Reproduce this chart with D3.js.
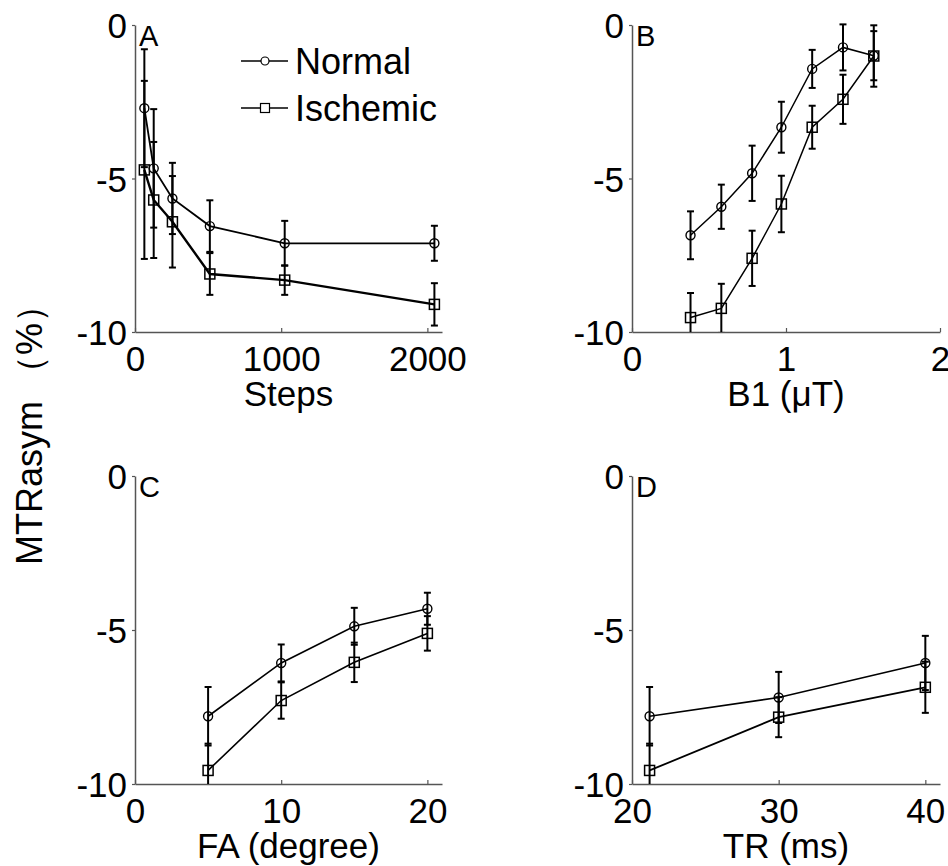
<!DOCTYPE html>
<html>
<head>
<meta charset="utf-8">
<script src="https://cdn.jsdelivr.net/npm/d3@7/dist/d3.min.js"></script>
<style>
  html, body { margin: 0; padding: 0; background: #fff; }
  svg { display: block; font-family: "Liberation Sans", Arial, sans-serif; }
</style>
</head>
<body>
<svg id="chart" width="948" height="866"></svg>
<script>
// ---------------- DATA ----------------
const yTicks = [0, -5, -10];
const seriesNames = ["Normal", "Ischemic"];

const stepsX = [64, 128, 256, 512, 1024, 2048];
const stepsNormal = [-2.71, -4.67, -5.65, -6.55, -7.11, -7.11];
const stepsNormalErr = [1.92, 1.93, 1.16, 0.84, 0.73, 0.57];
const stepsIschemic = [-4.72, -5.70, -6.41, -8.11, -8.31, -9.10];
const stepsIschemicErr = [2.90, 1.89, 1.49, 0.68, 0.48, 0.69];
const stepsTicks = [0, 1000, 2000];

const b1X = [0.38, 0.58, 0.78, 0.97, 1.17, 1.37, 1.57];
const b1Normal = [-6.85, -5.92, -4.83, -3.33, -1.43, -0.73, -1.00];
const b1NormalErr = [0.78, 0.72, 0.90, 0.83, 0.62, 0.75, 0.80];
const b1Ischemic = [-9.53, -9.23, -7.60, -5.83, -3.33, -2.42, -1.01];
const b1IschemicErr = [0.80, 0.80, 0.90, 0.92, 0.70, 0.80, 1.00];
const b1Ticks = [0, 1, 2];

const faX = [5, 10, 15, 20];
const faNormal = [-7.80, -6.07, -4.88, -4.31];
const faNormalErr = [0.95, 0.60, 0.60, 0.52];
const faIschemic = [-9.56, -7.29, -6.05, -5.11];
const faIschemicErr = [0.87, 0.59, 0.64, 0.56];
const faTicks = [0, 10, 20];

const trX = [21.2, 30, 40];
const trNormal = [-7.80, -7.19, -6.07];
const trNormalErr = [0.95, 0.83, 0.88];
const trIschemic = [-9.56, -7.83, -6.86];
const trIschemicErr = [0.87, 0.65, 0.83];
const trTicks = [20, 30, 40];

// ---------------- LAYOUT ----------------
const svg = d3.select("#chart");
const panels = [
  { letter: "A", title: "Steps", x: stepsX, n: stepsNormal, ne: stepsNormalErr, i: stepsIschemic, ie: stepsIschemicErr,
    ticks: stepsTicks, domain: [0, 2100], left: 135, right: 442, top: 25, bottom: 332, lw: [1.8, 2.4] },
  { letter: "B", title: "B1 (\u03bcT)", x: b1X, n: b1Normal, ne: b1NormalErr, i: b1Ischemic, ie: b1IschemicErr,
    ticks: b1Ticks, domain: [0, 2], left: 632, right: 940, top: 25, bottom: 332, lw: [1.5, 1.5] },
  { letter: "C", title: "FA (degree)", x: faX, n: faNormal, ne: faNormalErr, i: faIschemic, ie: faIschemicErr,
    ticks: faTicks, domain: [0, 21], left: 135, right: 442, top: 476, bottom: 784, lw: [1.6, 1.6] },
  { letter: "D", title: "TR (ms)", x: trX, n: trNormal, ne: trNormalErr, i: trIschemic, ie: trIschemicErr,
    ticks: trTicks, domain: [20, 41], left: 632, right: 940, top: 476, bottom: 784, lw: [1.6, 1.8] }
];

const axisColor = "#555";
const fontSize = 35;

panels.forEach((p, pi) => {
  const x = d3.scaleLinear().domain(p.domain).range([p.left, p.right]);
  const y = d3.scaleLinear().domain([-10, 0]).range([p.bottom, p.top]);
  const g = svg.append("g");

  // y axis
  const ya = g.append("g").attr("transform", `translate(${p.left},0)`)
    .call(d3.axisLeft(y).tickValues(yTicks).tickSizeInner(3).tickSizeOuter(0).tickFormat(d3.format("d")));
  ya.select(".domain").attr("stroke", axisColor).attr("stroke-width", 1.5);
  ya.selectAll(".tick line").attr("stroke", axisColor).attr("stroke-width", 1.2);
  ya.selectAll(".tick text").attr("x", -8).attr("dy", null).attr("y", 12.5)
    .attr("font-size", fontSize).attr("fill", "#000").attr("font-family", "Liberation Sans, Arial, sans-serif")
    .text(d => d === 0 ? "0" : String(d).replace("\u2212", "-"));

  // x axis
  const xa = g.append("g").attr("transform", `translate(0,${p.bottom})`)
    .call(d3.axisBottom(x).tickValues(p.ticks).tickSizeInner(-4).tickSizeOuter(0).tickFormat(d3.format("d")));
  xa.select(".domain").attr("stroke", axisColor).attr("stroke-width", 1.5);
  xa.selectAll(".tick line").attr("stroke", axisColor).attr("stroke-width", 1.2);
  xa.selectAll(".tick text").attr("y", 39).attr("dy", null)
    .attr("font-size", fontSize).attr("fill", "#000").attr("font-family", "Liberation Sans, Arial, sans-serif");

  // axis title
  g.append("text").attr("x", (p.left + p.right) / 2).attr("y", p.bottom + 74)
    .attr("text-anchor", "middle").attr("font-size", fontSize).text(p.title);

  // panel letter
  g.append("text").attr("x", p.left + 4).attr("y", p.top + 21)
    .attr("font-size", 29).text(p.letter);

  // clip
  const clipId = "clip" + pi;
  svg.append("clipPath").attr("id", clipId).append("rect")
    .attr("x", p.left).attr("y", p.top - 3).attr("width", p.right - p.left + 10).attr("height", p.bottom - p.top + 3);
  const plot = g.append("g").attr("clip-path", `url(#${clipId})`);

  const series = [
    { vals: p.n, errs: p.ne, marker: "circle", lw: p.lw[0] },
    { vals: p.i, errs: p.ie, marker: "square", lw: p.lw[1] }
  ];

  // error bars
  series.forEach(s => {
    const eb = plot.append("g").attr("stroke", "#000").attr("stroke-width", 2);
    p.x.forEach((xv, k) => {
      const cx = x(xv), y1 = y(s.vals[k] + s.errs[k]), y2 = y(s.vals[k] - s.errs[k]);
      eb.append("line").attr("x1", cx).attr("x2", cx).attr("y1", y1).attr("y2", y2);
      eb.append("line").attr("x1", cx - 3.5).attr("x2", cx + 3.5).attr("y1", y1).attr("y2", y1);
      eb.append("line").attr("x1", cx - 3.5).attr("x2", cx + 3.5).attr("y1", y2).attr("y2", y2);
    });
  });

  // lines + markers
  series.forEach(s => {
    const line = d3.line().x((d, k) => x(p.x[k])).y(d => y(d));
    plot.append("path").datum(s.vals).attr("d", line)
      .attr("fill", "none").attr("stroke", "#000").attr("stroke-width", s.lw);
    p.x.forEach((xv, k) => {
      const cx = x(xv), cy = y(s.vals[k]);
      if (s.marker === "circle") {
        plot.append("circle").attr("cx", cx).attr("cy", cy).attr("r", 4.5)
          .attr("fill", "none").attr("stroke", "#000").attr("stroke-width", 1.4);
      } else {
        plot.append("rect").attr("x", cx - 5).attr("y", cy - 5).attr("width", 10).attr("height", 10)
          .attr("fill", "none").attr("stroke", "#000").attr("stroke-width", 1.5);
      }
    });
  });

  // legend in panel A
  if (pi === 0) {
    const lg = svg.append("g");
    seriesNames.forEach((name, k) => {
      const ly = 61 + k * 47;
      lg.append("line").attr("x1", 241).attr("x2", 288).attr("y1", ly).attr("y2", ly)
        .attr("stroke", "#000").attr("stroke-width", 1.6);
      if (k === 0) {
        lg.append("circle").attr("cx", 265).attr("cy", ly).attr("r", 4)
          .attr("fill", "#fff").attr("stroke", "#000").attr("stroke-width", 1.2);
      } else {
        lg.append("rect").attr("x", 260.5).attr("y", ly - 4.5).attr("width", 9).attr("height", 9)
          .attr("fill", "#fff").attr("stroke", "#000").attr("stroke-width", 1.2);
      }
      lg.append("text").attr("x", 295).attr("y", ly + 13).attr("font-size", 36).text(name);
    });
  }
});

// shared y-axis title
svg.append("text")
  .attr("transform", "translate(42,426) rotate(-90)")
  .attr("text-anchor", "middle")
  .attr("font-size", 36)
  .text("MTRasym \uff08%\uff09");
</script>
</body>
</html>
